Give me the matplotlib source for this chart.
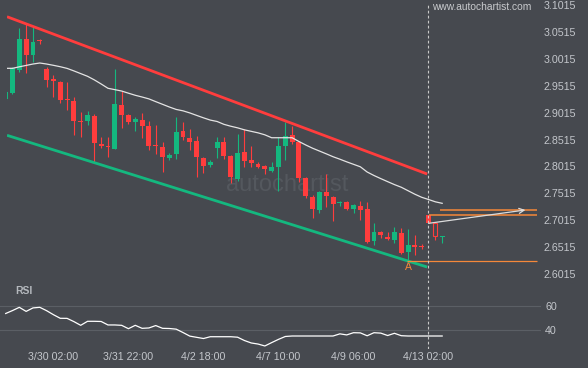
import matplotlib
matplotlib.use("Agg")
import matplotlib.pyplot as plt
import numpy as np

plt.rcParams['font.family'] = ['Liberation Sans', 'DejaVu Sans']

# 4h candles, index 0 = first complete candle at the left edge
idx = np.arange(-1, 64)
opens = [2.9262, 2.9385, 2.9807, 3.0383, 3.0086, 3.0370, 2.9825, 2.9645, 2.9589, 2.9273,
         2.9231, 2.8864, 2.8864, 2.8952, 2.8431, 2.8394, 2.8338, 2.9156, 2.8970, 2.8846,
         2.8877, 2.8766, 2.8413, 2.8376, 2.8177, 2.8245, 2.8673, 2.8543, 2.8487, 2.8166,
         2.8041, 2.8363, 2.8474, 2.8208, 2.7781, 2.8288, 2.8134, 2.8054, 2.8022, 2.7929,
         2.8009, 2.8400, 2.8599, 2.8474, 2.7805, 2.7455, 2.7214, 2.7545, 2.7452, 2.7329,
         2.7359, 2.7223, 2.7279, 2.7223, 2.6628, 2.6801, 2.6703, 2.6647, 2.6783, 2.6429,
         2.6554, 2.6535, 2.7117, 2.6969, 2.6708]
highs = [2.9435, 2.9868, 3.0582, 3.0675, 3.0612, 3.0389, 2.9868, 2.9714, 2.9602, 2.9589,
         2.9310, 2.9026, 2.9045, 2.8983, 2.8556, 2.8556, 2.9825, 2.9416, 2.8989, 2.8933,
         2.9008, 2.8859, 2.8784, 2.8463, 2.8258, 2.8928, 2.8840, 2.8716, 2.8589, 2.8184,
         2.8134, 2.8561, 2.8561, 2.8227, 2.8617, 2.8710, 2.8394, 2.8097, 2.8041, 2.8102,
         2.8567, 2.8846, 2.8766, 2.8487, 2.7818, 2.7483, 2.7567, 2.7874, 2.7465, 2.7363,
         2.7372, 2.7316, 2.7363, 2.7359, 2.6963, 2.6814, 2.6805, 2.6889, 2.6864, 2.6846,
         2.6749, 2.6573, 2.7117, 2.6969, 2.6721]
lows = [2.9249, 2.9355, 2.9775, 2.9745, 2.9961, 3.0290, 2.9496, 2.9305, 2.9193, 2.9063,
        2.8599, 2.8567, 2.8784, 2.8102, 2.8351, 2.8195, 2.8333, 2.8729, 2.8803, 2.8673,
        2.8543, 2.8320, 2.8240, 2.7920, 2.8125, 2.8158, 2.8515, 2.8320, 2.7824, 2.7887,
        2.7998, 2.8171, 2.8153, 2.7701, 2.7749, 2.8009, 2.8004, 2.7985, 2.7874, 2.7911,
        2.7563, 2.8134, 2.8426, 2.7725, 2.7422, 2.7056, 2.7143, 2.7260, 2.7009, 2.7270,
        2.7205, 2.7143, 2.7019, 2.6597, 2.6545, 2.6679, 2.6638, 2.6586, 2.6387, 2.6266,
        2.6368, 2.6474, 2.6969, 2.6647, 2.6597]
closes = [2.9398, 2.9838, 3.0383, 3.0086, 3.0333, 3.0346, 2.9621, 2.9608, 2.9249, 2.9249,
          2.8864, 2.8840, 2.8970, 2.8444, 2.8394, 2.8370, 2.9175, 2.8970, 2.8846, 2.8896,
          2.8766, 2.8394, 2.8394, 2.8195, 2.8227, 2.8660, 2.8561, 2.8474, 2.8195, 2.8022,
          2.8102, 2.8474, 2.8208, 2.7824, 2.8270, 2.8121, 2.8073, 2.8009, 2.7961, 2.8009,
          2.8400, 2.8580, 2.8474, 2.7805, 2.7474, 2.7232, 2.7534, 2.7470, 2.7316, 2.7353,
          2.7229, 2.7298, 2.7205, 2.6615, 2.6801, 2.6731, 2.6666, 2.6801, 2.6405, 2.6554,
          2.6521, 2.6511, 2.6969, 2.6716, 2.6721]
moving_avg = [2.9838, 2.9838, 2.9866, 2.9892, 2.9918, 2.9937, 2.9918, 2.9894, 2.9868, 2.9837,
              2.9790, 2.9740, 2.9690, 2.9623, 2.9547, 2.9467, 2.9442, 2.9416, 2.9376, 2.9337,
              2.9305, 2.9270, 2.9219, 2.9169, 2.9119, 2.9074, 2.9048, 2.9009, 2.8963, 2.8918,
              2.8876, 2.8850, 2.8797, 2.8762, 2.8732, 2.8695, 2.8667, 2.8639, 2.8602, 2.8548,
              2.8548, 2.8548, 2.8548, 2.8478, 2.8413, 2.8353, 2.8301, 2.8249, 2.8195, 2.8149,
              2.8100, 2.8054, 2.8008, 2.7911, 2.7846, 2.7788, 2.7732, 2.7677, 2.7628, 2.7563,
              2.7498, 2.7441, 2.7400, 2.7357, 2.7329]
rsi = [53.75, 56.2, 58.9, 55.5, 58.4, 58.9, 56.1, 52.75, 49.75, 49.7,
       47.0, 43.9, 47.25, 47.25, 47.1, 44.2, 44.2, 43.9, 41.1, 43.9,
       41.4, 41.7, 43.7, 41.4, 41.25, 40.7, 37.9, 34.9, 33.9, 32.9,
       34.4, 34.4, 34.4, 34.4, 34.0, 31.25, 29.2, 28.3, 26.7, 29.5,
       32.2, 34.6, 35.0, 35.0, 35.0, 35.0, 35.0, 35.0, 35.0, 36.8,
       35.9, 37.75, 37.6, 35.2, 37.75, 37.4, 35.4, 37.25, 35.25, 35.0,
       35.0, 35.0, 35.0, 35.0, 35.0]
hollow_candle = 62

# channel (start, end)
res_x, res_y = [-0.8, 60.8], [3.0797, 2.7874]
sup_x, sup_y = [-0.8, 60.8], [2.8593, 2.6145]

# pattern point A and forecast zone
point_a = 58
level_a = 2.6251
zone_hi, zone_lo = 2.7199, 2.7117
arrow_from = (61.0, 2.6957)
arrow_to = (75.2, 2.7205)
now_idx = 60.9

price_ticks = [3.1015, 3.0515, 3.0015, 2.9515, 2.9015, 2.8515, 2.8015, 2.7515, 2.7015, 2.6515, 2.6015]
time_ticks = [6, 17, 28, 39, 50, 61]
time_labels = ['3/30 02:00', '3/31 22:00', '4/2 18:00', '4/7 10:00', '4/9 06:00', '4/13 02:00']

BG = '#46494f'
GREEN = '#14b87f'
RED = '#ff3d3d'
ORANGE = '#f5883a'
TXT = '#c3c6cb'

W, H = 588, 368
fig = plt.figure(figsize=(W / 100, H / 100), dpi=100, facecolor=BG)


def px_axes(x0, y0, x1, y1):
    a = fig.add_axes([x0 / W, 1 - y1 / H, (x1 - x0) / W, (y1 - y0) / H])
    a.set_facecolor(BG)
    for s in a.spines.values():
        s.set_visible(False)
    return a


ax = px_axes(7, 0, 541, 283)
rax = px_axes(0, 284, 541, 349)

# candles
o, h, l, c = map(np.array, (opens, highs, lows, closes))
up = c >= o
cols = np.where(up, GREEN, RED)
ax.vlines(idx, l, h, colors=cols, lw=0.8, zorder=2)
bottom = np.minimum(o, c)
height = np.maximum(np.abs(c - o), 0.0019)
solid = idx != hollow_candle
ax.bar(idx[solid], height[solid], bottom=bottom[solid], width=0.72,
       color=cols[solid], lw=0, zorder=3)
hc = ~solid
ax.bar(idx[hc], height[hc], bottom=bottom[hc], width=0.62,
       facecolor=BG, edgecolor=RED, lw=0.8, zorder=3)

ax.plot(idx, moving_avg, color='#e4e4e4', lw=0.9, zorder=4)
ax.plot(res_x, res_y, color=RED, lw=2.0, solid_capstyle='butt', zorder=5)
ax.plot(sup_x, sup_y, color=GREEN, lw=2.0, solid_capstyle='butt', zorder=5)

# forecast area
ax.hlines(level_a, point_a - 0.2, 76.9, color=ORANGE, lw=0.9, zorder=5)
ax.hlines(zone_hi, 62.7, 76.9, color=ORANGE, lw=1.1, zorder=5)
ax.hlines(zone_lo, 61.0, 76.9, color=ORANGE, lw=1.1, zorder=5)
ax.annotate('', xy=arrow_to, xytext=arrow_from,
            arrowprops=dict(arrowstyle='->', color='#dcdcdc', lw=0.9,
                            mutation_scale=9, shrinkA=0, shrinkB=0), zorder=6)
ax.text(point_a, 2.6151, 'A', color=ORANGE, ha='center', va='center', fontsize=7.5)

ax.axvline(now_idx, ymin=0, ymax=(283 - 4) / 283, color='#c9c9c9', lw=0.8,
           ls=(0, (2.5, 2)), zorder=6)

ax.text(0.525, 0.346, 'autochartist', transform=ax.transAxes, ha='center', va='center',
        fontsize=17, color='#54585e', zorder=1)

ax.set_xlim(-0.806, 77.49)
ax.set_ylim(2.5848, 3.1108)
ax.set_xticks([])
ax.yaxis.tick_right()
ax.set_yticks(price_ticks)
ax.set_yticklabels([f'{t:.4f}' for t in price_ticks])
ax.tick_params(axis='y', length=0, pad=2, labelsize=7.7, labelcolor=TXT)

# RSI panel
rax.plot(idx, rsi, color='white', lw=0.9, zorder=3)
for lvl in (40, 60):
    rax.axhline(lvl, color='#5b5f65', lw=0.8, zorder=1)
rax.axvline(now_idx, color='#c9c9c9', lw=0.8, ls=(0, (2.5, 2)), zorder=4)
rax.set_xlim(-1.833, 77.49)
rax.set_ylim(24.17, 78.33)
rax.yaxis.tick_right()
rax.set_yticks([40, 60])
rax.tick_params(axis='y', length=0, pad=3, labelsize=7.7, labelcolor=TXT)
rax.set_xticks(time_ticks)
rax.set_xticklabels(time_labels)
rax.tick_params(axis='x', length=0, pad=2, labelsize=7.7, labelcolor=TXT)

fig.text(15 / W, 1 - 291 / H, 'RSI', fontweight='bold', fontsize=7.5, color='#b4b8bd', va='center')
fig.text(432 / W, 1 - 7 / H, 'www.autochartist.com', fontsize=7.4, color='#c8cacd',
         va='center', ha='left')

fig.savefig('out.png', dpi=100, facecolor=BG)
